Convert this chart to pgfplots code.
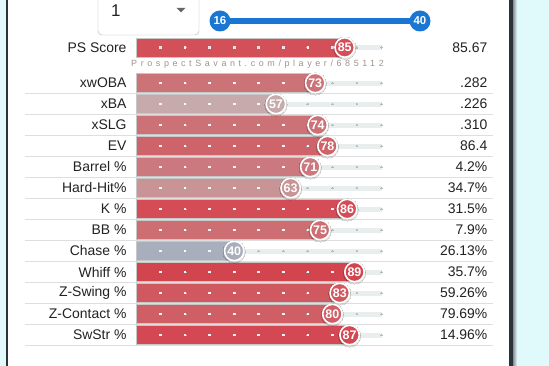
\documentclass[border=0pt]{standalone}
\usepackage{pgfplots}
\pgfplotsset{compat=1.18}
\usepackage{fontspec}
\setmainfont{Liberation Sans}
\newfontfamily\wmfont[LetterSpace=40]{Liberation Sans}
\definecolor{cyanbg}{RGB}{224,250,251}
\definecolor{frame}{RGB}{42,50,60}
\definecolor{sep}{RGB}{222,222,222}
\definecolor{track}{RGB}{232,238,238}
\definecolor{dotgray}{RGB}{180,186,186}
\definecolor{txt}{RGB}{34,34,34}
\definecolor{wm}{RGB}{158,148,140}
\definecolor{slider}{RGB}{25,118,210}
\definecolor{c85}{RGB}{211,80,88}
\definecolor{c73}{RGB}{204,115,120}
\definecolor{c57}{RGB}{198,170,172}
\definecolor{c74}{RGB}{204,113,118}
\definecolor{c78}{RGB}{206,100,106}
\definecolor{c71}{RGB}{203,121,126}
\definecolor{c63}{RGB}{200,148,150}
\definecolor{c86}{RGB}{212,76,86}
\definecolor{c75}{RGB}{205,110,115}
\definecolor{c40}{RGB}{168,174,188}
\definecolor{c89}{RGB}{210,68,78}
\definecolor{c83}{RGB}{208,88,95}
\definecolor{c80}{RGB}{207,95,101}
\definecolor{c87}{RGB}{211,72,82}
% #1 row y, #2 percentile, #3 colour, #4 label, #5 value
\newcommand\prowbar[5]{%
  \addplot[xbar, bar shift=0pt, bar width=5, fill=track, draw=none] coordinates {(100,#1)};
  \addplot[only marks, mark=*, mark size=0.9bp, color=dotgray, mark options={fill=dotgray, draw=dotgray, line width=0pt}]
    coordinates {(10,#1)(20,#1)(30,#1)(40,#1)(50,#1)(60,#1)(70,#1)(80,#1)(90,#1)(100,#1)};
  \addplot[xbar, bar shift=0pt, bar width=19, fill=#3, draw=black!22, line width=0.8bp] coordinates {(#2,#1)};
  \addplot[only marks, mark=square*, mark size=0.85bp, color=white, mark options={fill=white, draw=white, line width=0pt, opacity=0.65},
    restrict x to domain=0:#2]
    coordinates {(10,#1)(20,#1)(30,#1)(40,#1)(50,#1)(60,#1)(70,#1)(80,#1)(90,#1)(100,#1)};
  \node[anchor=east, text=txt, font=\fontsize{14}{14}\selectfont, inner sep=0pt] at (axis cs:-3.8,#1) {#4};
  \node[anchor=east, text=txt, font=\fontsize{14}{14}\selectfont, inner sep=0pt] at (axis cs:143.2,#1) {#5};
}
\newcommand\prowcirc[3]{%
  \addplot[only marks, mark=*, mark size=11.2bp, color=black, mark options={fill=black, draw=black, line width=0pt, opacity=0.10}]
    coordinates {(#2,#1+0.8)};
  \addplot[only marks, mark=*, mark size=9.7bp, color=white, mark options={fill=#3, draw=white, line width=1.6bp},
    point meta=explicit symbolic, nodes near coords,
    nodes near coords style={anchor=center, text=white, inner sep=0pt, font=\bfseries\fontsize{12.5}{12}\selectfont}]
    coordinates {(#2,#1) [#2]};
}
\begin{document}
\begin{tikzpicture}
\useasboundingbox (0,0) rectangle (549bp,366bp);
\begin{scope}[x=1bp,y=-1bp,shift={(0,366bp)}]
  \fill[cyanbg] (0,0) rectangle (549,366);
  \fill[white] (8,0) rectangle (509,366);
  \fill[frame] (6,0) rectangle (8,366);
  \fill[frame] (509,0) rectangle (513,366);
  \shade[left color=frame!55, right color=cyanbg] (513,0) rectangle (517,366);
  % dropdown
  \draw[black!30, fill=white, rounded corners=4bp] (98,-8) rectangle (199,35);
  \node[anchor=west, text=txt, font=\fontsize{17}{17}\selectfont, inner sep=0pt] at (111,11) {1};
  \fill[black!60] (176.5,8) -- (185.5,8) -- (181,12.5) -- cycle;
  % slider
  \draw[slider, line width=6bp] (220,21) -- (420,21);
  \fill[slider] (220,21) circle[radius=10.5bp];
  \fill[slider] (420,21) circle[radius=10.5bp];
  \node[text=white, font=\bfseries\fontsize{11.5}{11}\selectfont] at (220,21) {16};
  \node[text=white, font=\bfseries\fontsize{11.5}{11}\selectfont] at (420,21) {40};
  % separators
  \foreach \s in {93.5,114.5,...,346} \draw[sep, line width=1.2bp] (24.5,\s) -- (492.5,\s);
\end{scope}
\begin{axis}[width=549bp, height=366bp, scale only axis,
  xmin=-55.4, xmax=168.23, ymin=0, ymax=366, y dir=reverse,
  axis lines=none, clip=false]
\prowbar{47.5}{85}{c85}{PS Score}{85.67}
\prowbar{83}{73}{c73}{xwOBA}{.282}
\prowbar{104}{57}{c57}{xBA}{.226}
\prowbar{125}{74}{c74}{xSLG}{.310}
\prowbar{146}{78}{c78}{EV}{86.4}
\prowbar{167}{71}{c71}{Barrel \%}{4.2\%}
\prowbar{188}{63}{c63}{Hard-Hit\%}{34.7\%}
\prowbar{209}{86}{c86}{K \%}{31.5\%}
\prowbar{230}{75}{c75}{BB \%}{7.9\%}
\prowbar{251}{40}{c40}{Chase \%}{26.13\%}
\prowbar{272}{89}{c89}{Whiff \%}{35.7\%}
\prowbar{293}{83}{c83}{Z-Swing \%}{59.26\%}
\prowbar{314}{80}{c80}{Z-Contact \%}{79.69\%}
\prowbar{335}{87}{c87}{SwStr \%}{14.96\%}
\prowcirc{47.5}{85}{c85}
\prowcirc{83}{73}{c73}
\prowcirc{104}{57}{c57}
\prowcirc{125}{74}{c74}
\prowcirc{146}{78}{c78}
\prowcirc{167}{71}{c71}
\prowcirc{188}{63}{c63}
\prowcirc{209}{86}{c86}
\prowcirc{230}{75}{c75}
\prowcirc{251}{40}{c40}
\prowcirc{272}{89}{c89}
\prowcirc{293}{83}{c83}
\prowcirc{314}{80}{c80}
\prowcirc{335}{87}{c87}
\node[text=wm, font=\wmfont\fontsize{9}{9}\selectfont, inner sep=0pt] at (axis cs:49.5,64) {ProspectSavant.com/player/685112};
\end{axis}
\end{tikzpicture}
\end{document}
